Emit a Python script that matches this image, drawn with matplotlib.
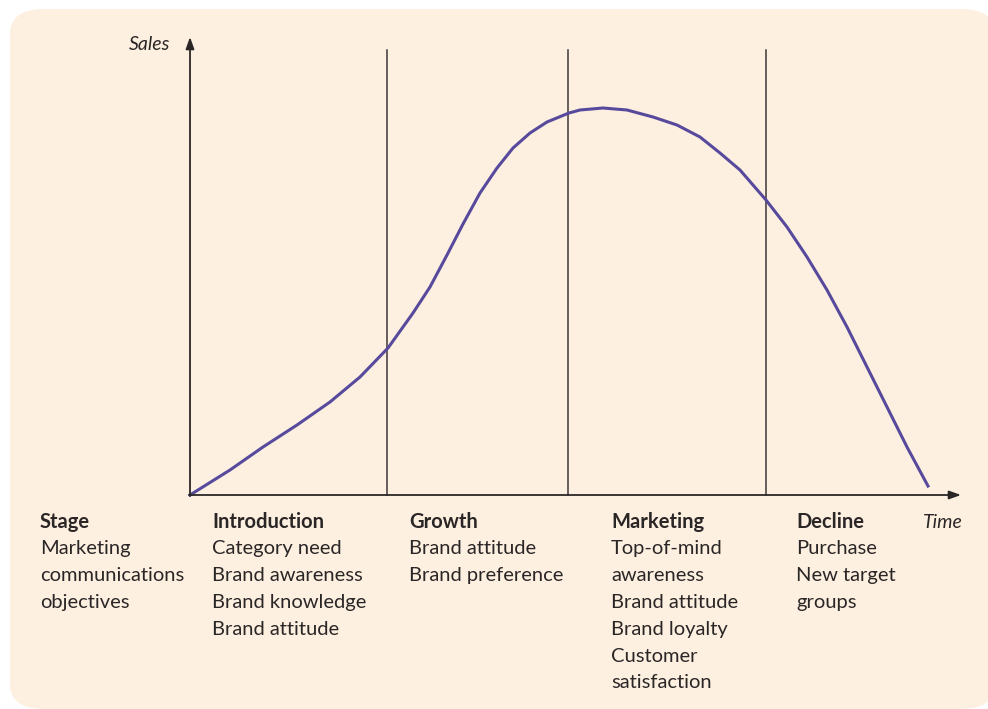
import matplotlib.pyplot as plt
from matplotlib.patches import FancyBboxPatch

plt.rcParams['font.family'] = ['Lato', 'DejaVu Sans']

# sales curve (arbitrary units, origin at the axes corner)
time = [0, 40, 73, 107, 140, 170, 198, 223, 240, 257, 273, 290, 307, 323,
        340, 357, 379, 390, 413, 437, 463, 487, 510, 530, 550, 576, 597,
        617, 637, 657, 677, 697, 717, 738]
sales = [0, 25, 48, 70, 93, 118, 147, 182, 208, 240, 271, 302, 327, 347,
         362, 373, 382, 385, 387, 385, 378, 370, 358, 342, 325, 295, 268,
         238, 205, 168, 128, 88, 48, 9]

# stage boundaries
boundaries = [197, 378, 576]

stages = ['Stage', 'Introduction', 'Growth', 'Marketing', 'Decline']
stage_x = [-150, 22, 219, 421, 606]
objectives = [
    ['Marketing', 'communications', 'objectives'],
    ['Category need', 'Brand awareness', 'Brand knowledge', 'Brand attitude'],
    ['Brand attitude', 'Brand preference'],
    ['Top-of-mind', 'awareness', 'Brand attitude', 'Brand loyalty',
     'Customer', 'satisfaction'],
    ['Purchase', 'New target', 'groups'],
]

fig = plt.figure(figsize=(9.88, 7.09), dpi=100)
fig.patch.set_facecolor('white')

ax = fig.add_axes([0, 0, 1, 1])
ax.set_xlim(-190, 798)
ax.set_ylim(-214, 495)
ax.axis('off')

bg = FancyBboxPatch((10 / 988, 0.0), 985 / 988, 700 / 709,
                    boxstyle='round,pad=0,rounding_size=0.035',
                    transform=fig.transFigure, facecolor='#fdf0e1',
                    edgecolor='none', zorder=0, clip_on=False)
ax.add_patch(bg)

ink = '#2b2626'
line_col = '#3d3838'

# axes with arrows
ax.annotate('', xy=(0, 458), xytext=(0, -1),
            arrowprops=dict(arrowstyle='-|>,head_length=0.7,head_width=0.25',
                            color=ink, lw=1.3, shrinkA=0, shrinkB=0))
ax.annotate('', xy=(771, 0), xytext=(-1, 0),
            arrowprops=dict(arrowstyle='-|>,head_length=0.7,head_width=0.25',
                            color=ink, lw=1.3, shrinkA=0, shrinkB=0))

for b in boundaries:
    ax.plot([b, b], [0, 445], color=line_col, lw=1.1)

ax.plot(time, sales, color='#574a9c', lw=2.2, solid_joinstyle='round')

ax.text(-20, 450, 'Sales', style='italic', fontsize=14, color=ink,
        ha='right', va='center')
ax.text(773, -27, 'Time', style='italic', fontsize=14, color=ink,
        ha='right', va='center')

step = 26.8
for name, x0, lines in zip(stages, stage_x, objectives):
    ax.text(x0, -27, name, fontsize=14.5, fontweight='bold', color=ink,
            ha='left', va='center')
    for i, t in enumerate(lines):
        ax.text(x0, -27 - step * (i + 1), t, fontsize=14.5, color=ink,
                ha='left', va='center')

fig.savefig('out.png', dpi=100, facecolor=fig.get_facecolor())
